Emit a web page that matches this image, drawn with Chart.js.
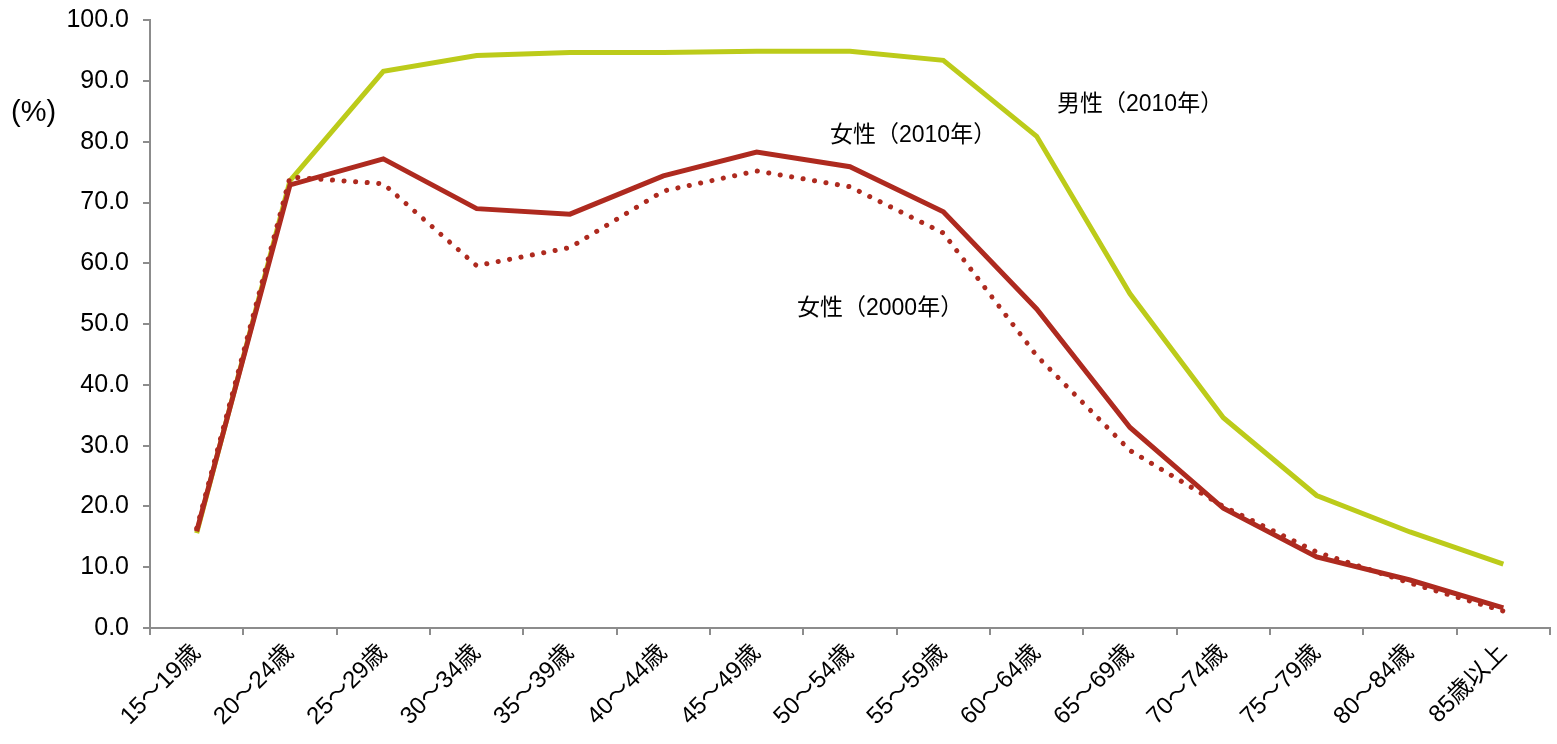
<!DOCTYPE html>
<html>
<head>
<meta charset="utf-8">
<script src="https://cdn.jsdelivr.net/npm/chart.js@4"></script>
<style>
  body { margin: 0; background: #fff; }
  #wrap { width: 1557px; height: 744px; }
</style>
</head>
<body>
<div id="wrap"><canvas id="laborChart" width="1557" height="744"></canvas></div>
<script>
// ===== Data =====
const ageGroups = ['15～19歳', '20～24歳', '25～29歳', '30～34歳', '35～39歳', '40～44歳', '45～49歳',
  '50～54歳', '55～59歳', '60～64歳', '65～69歳', '70～74歳', '75～79歳', '80～84歳', '85歳以上'];
const male2010 = [15.6, 73.6, 91.6, 94.2, 94.7, 94.7, 94.9, 94.9, 93.4, 80.9, 55.0, 34.6, 21.8, 15.8, 10.5];
const female2010 = [15.9, 72.9, 77.2, 69.0, 68.1, 74.4, 78.3, 75.9, 68.5, 52.5, 33.0, 19.7, 11.7, 7.9, 3.3];
const female2000 = [16.4, 74.2, 73.1, 59.6, 62.6, 71.9, 75.2, 72.6, 65.0, 44.8, 29.2, 20.0, 12.5, 7.4, 2.8];
const yTicks = [0, 10, 20, 30, 40, 50, 60, 70, 80, 90, 100];

const FONT = '"Liberation Sans", Arial, "Noto Sans CJK JP", sans-serif';
const RED = '#ae2a1f';
const GREEN = '#bccb1a';
const AXIS = '#8c8c8c';

// ===== Text labels on the chart =====
const labelPlugin = {
  id: 'seriesLabels',
  afterDraw(chart) {
    const c = chart.ctx;
    c.save();
    c.fillStyle = '#000';
    c.textBaseline = 'middle';
    c.textAlign = 'left';
    c.font = '29px ' + FONT;
    c.fillText('(%)', 11, 113);
    c.font = '23px ' + FONT;
    c.fillText('男性（2010年）', 1057, 105);
    c.fillText('女性（2010年）', 830, 136);
    c.fillText('女性（2000年）', 797, 309);
    c.restore();
  }
};

const ctx = document.getElementById('laborChart').getContext('2d');
const laborChart = new Chart(ctx, {
  type: 'line',
  data: {
    labels: ageGroups,
    datasets: [
      {
        label: '女性（2010年）',
        data: female2010,
        borderColor: RED,
        borderWidth: 5,
        pointRadius: 0,
        tension: 0,
        order: 1
      },
      {
        label: '女性（2000年）',
        data: female2000,
        borderColor: RED,
        borderWidth: 5,
        borderDash: [0.1, 11.5],
        borderCapStyle: 'round',
        pointRadius: 0,
        tension: 0,
        order: 2
      },
      {
        label: '男性（2010年）',
        data: male2010,
        borderColor: GREEN,
        borderWidth: 5,
        pointRadius: 0,
        tension: 0,
        order: 3
      }
    ]
  },
  options: {
    responsive: false,
    devicePixelRatio: 1,
    animation: false,
    layout: { padding: { top: 1, right: 7, left: 0, bottom: 0 } },
    plugins: {
      legend: { display: false },
      tooltip: { enabled: false }
    },
    scales: {
      x: {
        offset: true,
        grid: { offset: true, drawOnChartArea: false, drawTicks: true, tickLength: 7, color: AXIS, lineWidth: 2 },
        border: { color: AXIS, width: 2 },
        ticks: {
          color: '#000',
          font: { family: FONT, size: 24 },
          maxRotation: 45,
          minRotation: 45,
          autoSkip: false,
          padding: 4
        },
        afterFit(scale) { scale.height = 116; }
      },
      y: {
        min: 0,
        max: 100,
        afterBuildTicks(scale) { scale.ticks = yTicks.map(v => ({ value: v })); },
        grid: { drawOnChartArea: false, drawTicks: true, tickLength: 7, color: AXIS, lineWidth: 2 },
        border: { color: AXIS, width: 2 },
        ticks: {
          color: '#000',
          font: { family: FONT, size: 25, lineHeight: 0.5 },
          padding: 14,
          callback: v => Number(v).toFixed(1)
        },
        afterFit(scale) { scale.width = 150; }
      }
    }
  },
  plugins: [labelPlugin]
});
</script>
</body>
</html>
